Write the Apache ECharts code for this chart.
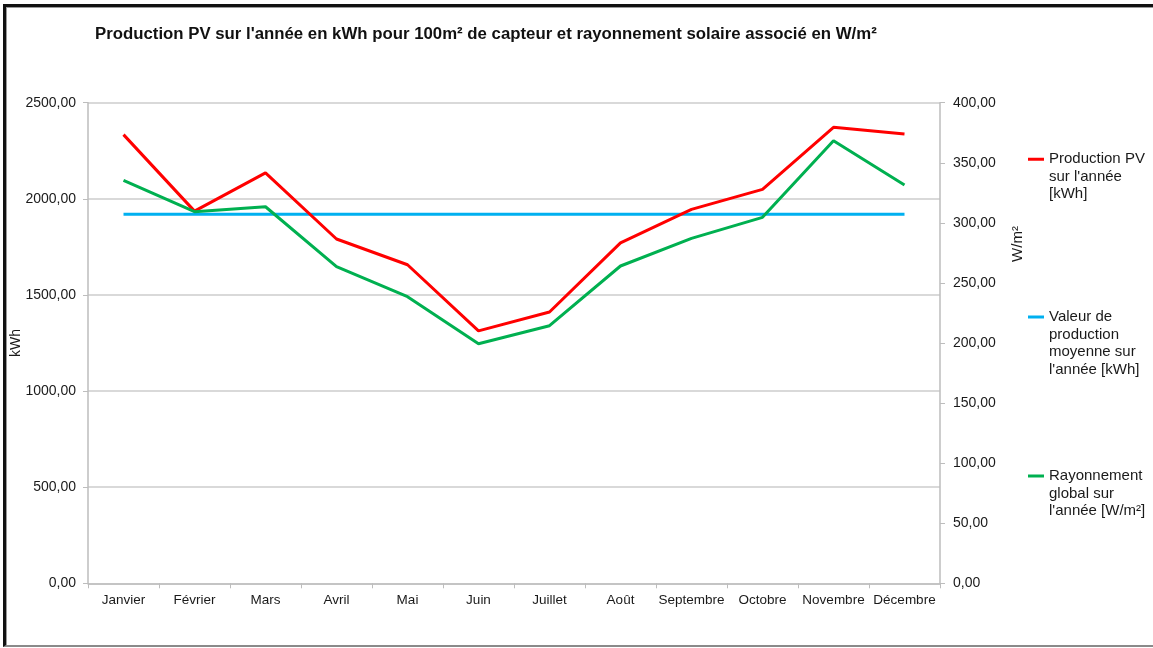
<!DOCTYPE html>
<html>
<head>
<meta charset="utf-8">
<title>Production PV</title>
<script src="https://cdn.jsdelivr.net/npm/echarts@6/dist/echarts.min.js"></script>
<style>
  html, body { margin: 0; padding: 0; background: #ffffff; }
  #wrap { position: relative; width: 1153px; height: 648px; overflow: hidden; }
  #chart { position: absolute; left: 0; top: 0; width: 1153px; height: 648px; }
  #frame {
    position: absolute; left: 3px; top: 4px; width: 1160px; height: 638px;
    border-left: 3px solid #111; border-top: 3px solid #111; border-bottom: 2px solid #8a8a8a;
    box-shadow: inset 1px 1px 0 #9a9a9a;
    pointer-events: none;
  }
</style>
</head>
<body>
<div id="wrap">
  <div id="chart"></div>
  <div id="frame"></div>
</div>
<script>
// Months of the year
const months = ['Janvier', 'Février', 'Mars', 'Avril', 'Mai', 'Juin', 'Juillet', 'Août', 'Septembre', 'Octobre', 'Novembre', 'Décembre'];

// Monthly PV production in kWh for 100 m² of collector
const productionPV = [2334, 1936, 2135, 1791, 1657, 1313, 1411, 1771, 1945, 2049, 2372, 2337];

// Average monthly production over the year (kWh)
const productionMoyenne = [1920, 1920, 1920, 1920, 1920, 1920, 1920, 1920, 1920, 1920, 1920, 1920];

// Global solar irradiance in W/m²
const rayonnement = [335.4, 309.3, 313.4, 263.5, 238.5, 199.4, 214.4, 264.1, 287.1, 304.6, 368.4, 331.5];

// Axis ranges and tick steps
const kwhAxis = { min: 0, max: 2500, step: 500 };
const wm2Axis = { min: 0, max: 400, step: 50 };

const seriesNames = {
  pv: "Production PV\nsur l'année\n[kWh]",
  moy: "Valeur de\nproduction\nmoyenne sur\nl'année [kWh]",
  ray: "Rayonnement\nglobal sur\nl'année [W/m²]"
};

const FONT = '"Liberation Sans", Arial, sans-serif';
const fmt = v => v.toFixed(2).replace('.', ',');

const axisGrey = '#bdbdbd';
const gridGrey = '#cccccc';

// One legend block per series; the key sits level with the first text line.
function legendFor(name, top) {
  const lines = name.split('\n').length;
  const pad = '\n'.repeat(lines - 1);
  return {
    show: true,
    data: [name],
    left: 1028,
    top: top,
    padding: 0,
    orient: 'vertical',
    icon: 'rect',
    itemWidth: 16,
    itemHeight: 3,
    selectedMode: false,
    formatter: n => pad + n,
    textStyle: {
      fontFamily: FONT,
      fontSize: 15,
      color: '#1a1a1a',
      lineHeight: 17.5
    }
  };
}

const chart = echarts.init(document.getElementById('chart'), null, { renderer: 'canvas' });

chart.setOption({
  backgroundColor: '#ffffff',
  animation: false,
  title: {
    text: "Production PV sur l'année en kWh pour 100m² de capteur et rayonnement solaire associé en W/m²",
    left: 95,
    top: 26,
    padding: 0,
    textStyle: { fontFamily: FONT, fontSize: 16.8, fontWeight: 'bold', color: '#111111' }
  },
  legend: [
    legendFor(seriesNames.pv, 115.5),
    legendFor(seriesNames.moy, 255.75),
    legendFor(seriesNames.ray, 432.25)
  ],
  grid: { left: 88, right: 213, top: 102.7, bottom: 64.7, containLabel: false, outerBoundsMode: 'none' },
  xAxis: {
    type: 'category',
    data: months,
    boundaryGap: true,
    axisLine: { show: true, lineStyle: { color: axisGrey, width: 1.5 } },
    axisTick: { show: true, length: 5, alignWithLabel: false, lineStyle: { color: axisGrey } },
    axisLabel: { margin: 10, interval: 0, fontFamily: FONT, fontSize: 13.5, color: '#1a1a1a' },
    splitLine: { show: false }
  },
  yAxis: [
    {
      type: 'value',
      min: kwhAxis.min, max: kwhAxis.max, interval: kwhAxis.step,
      position: 'left',
      name: 'kWh',
      nameLocation: 'middle',
      nameRotate: 90,
      nameGap: 65,
      nameMoveOverlap: false,
      nameTextStyle: { fontFamily: FONT, fontSize: 14, color: '#1a1a1a' },
      axisLine: { show: true, lineStyle: { color: axisGrey, width: 1.5 } },
      axisTick: { show: true, length: 5, lineStyle: { color: axisGrey } },
      axisLabel: { margin: 12, fontFamily: FONT, fontSize: 14, color: '#1a1a1a', formatter: fmt },
      splitLine: { show: true, lineStyle: { color: gridGrey, width: 1.5 } }
    },
    {
      type: 'value',
      min: wm2Axis.min, max: wm2Axis.max, interval: wm2Axis.step,
      position: 'right',
      name: 'W/m²',
      nameLocation: 'middle',
      nameRotate: 90,
      nameGap: 70,
      nameMoveOverlap: false,
      nameTextStyle: { fontFamily: FONT, fontSize: 15, color: '#1a1a1a', padding: [0, 0, 0, 198] },
      axisLine: { show: true, lineStyle: { color: axisGrey, width: 1.5 } },
      axisTick: { show: true, length: 5, lineStyle: { color: axisGrey } },
      axisLabel: { margin: 13, fontFamily: FONT, fontSize: 14, color: '#1a1a1a', formatter: fmt },
      splitLine: { show: false }
    }
  ],
  series: [
    {
      name: seriesNames.pv,
      type: 'line',
      yAxisIndex: 0,
      data: productionPV,
      symbol: 'none',
      z: 4,
      lineStyle: { color: '#ff0000', width: 3 },
      itemStyle: { color: '#ff0000' }
    },
    {
      name: seriesNames.moy,
      type: 'line',
      yAxisIndex: 0,
      data: productionMoyenne,
      symbol: 'none',
      z: 3,
      lineStyle: { color: '#00b0f0', width: 3 },
      itemStyle: { color: '#00b0f0' }
    },
    {
      name: seriesNames.ray,
      type: 'line',
      yAxisIndex: 1,
      data: rayonnement,
      symbol: 'none',
      z: 5,
      lineStyle: { color: '#00b050', width: 3 },
      itemStyle: { color: '#00b050' }
    }
  ]
});
</script>
</body>
</html>
